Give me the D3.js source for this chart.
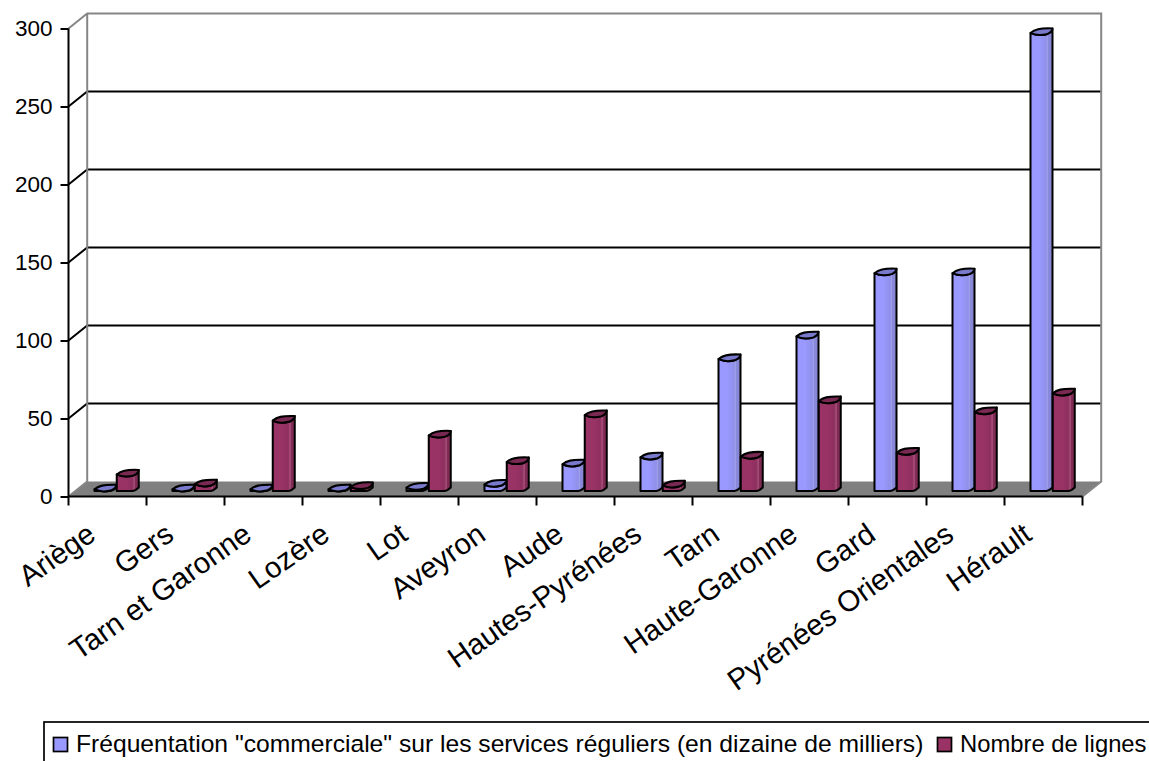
<!DOCTYPE html>
<html>
<head>
<meta charset="utf-8">
<script src="https://d3js.org/d3.v7.min.js"></script>
<style>
html,body{margin:0;padding:0;background:#fff}
svg{display:block}
text{font-family:"Liberation Sans",Arial,sans-serif;fill:#000}
</style>
</head>
<body>
<svg id="chart" width="1149" height="761"></svg>
<script>
// Departments, ordered by traffic
const categories = ["Ariège","Gers","Tarn et Garonne","Lozère","Lot","Aveyron","Aude","Hautes-Pyrénées","Tarn","Haute-Garonne","Gard","Pyrénées Orientales","Hérault"];
const seriesNames = ["Fréquentation \"commerciale\" sur les services réguliers (en dizaine de milliers)","Nombre de lignes"];
const frequentation = [0.5,0.5,0.5,0.5,1.5,3.5,16.5,21,84,98.5,139,139,293];
const lignes = [10,3.7,44.5,2,35,18,48,3,21.5,57,24,50,62];
const yTicks = [0,50,100,150,200,250,300];

const svg = d3.select("#chart");
const frontLeft = 68.5, frontRight = 1082.5, frontBase = 496.5, frontTop = 28.5;
const depthX = 18.7, depthY = -15;
const barDepthY = -8;
const barW = 22;

const x = d3.scaleBand().domain(categories).range([frontLeft, frontRight]);
const y = d3.scaleLinear().domain([0,300]).range([frontBase, frontTop]);
const inner = d3.scaleBand().domain([0,1]).range([26, 70.5]);

// Shaded fills that give the columns their rounded look
const defs = svg.append("defs");
function gradient(id, stops){
  const g = defs.append("linearGradient").attr("id",id);
  stops.forEach(([o,c])=>g.append("stop").attr("offset",o).attr("stop-color",c));
}
gradient("bodyBlue",[[0,"#9999ff"],[0.4,"#9999ff"],[0.72,"#8f8fe8"],[0.76,"#a5a5f0"],[0.8,"#8a8adb"],[1,"#8585d2"]]);
gradient("bodyRed",[[0,"#993366"],[0.45,"#993366"],[0.7,"#8d2f5e"],[0.8,"#a8507c"],[0.84,"#822c56"],[1,"#7c2a52"]]);
const topFill = ["#7a7acc","#7a2952"];
const bodyFill = ["url(#bodyBlue)","url(#bodyRed)"];

// Back wall, floor and left wall
const wallL = frontLeft + depthX, wallR = frontRight + depthX;
svg.append("polygon")
  .attr("points",[[frontLeft,frontBase],[wallL,frontBase+depthY],[wallR,frontBase+depthY],[frontRight,frontBase]].join(" "))
  .attr("fill","#808080");

const gridTicks = yTicks.filter(d=>d>0 && d<300);
svg.append("g").selectAll("path").data(gridTicks).join("path")
  .attr("d",d=>`M${frontLeft},${y(d)}L${wallL},${y(d)+depthY}L${wallR},${y(d)+depthY}`)
  .attr("fill","none").attr("stroke","#000").attr("stroke-width",2);

const wallTop = y(300)+depthY, wallBase = y(0)+depthY;
svg.append("path")
  .attr("d",`M${frontLeft},${y(300)}L${wallL},${wallTop}L${wallR},${wallTop}L${wallR},${wallBase}L${frontRight},${frontBase}`)
  .attr("fill","none").attr("stroke","#868686").attr("stroke-width",2);
svg.append("path")
  .attr("d",`M${wallL},${wallTop}L${wallL},${wallBase}L${frontLeft},${frontBase}`)
  .attr("fill","none").attr("stroke","#868686").attr("stroke-width",2);

// Columns: skewed ellipse on top, rounded shaft below
function topPath(l,t){
  const r = l+barW;
  return `M${l},${t+1.5}C${l+4},${t-2} ${l+9},${t-3.5} ${r},${t-3}`+
         `C${r},${t-1} ${r-2},${t+1} ${r-5},${t+2.5}C${r-10},${t+4} ${l+5},${t+4} ${l},${t+1.5}Z`;
}
function bodyPath(l,t,b){
  const r = l+barW;
  return `M${l},${t+1.5}L${l},${b+2.5}L${r-6},${b+2.5}C${r-3},${b+2} ${r-1},${b} ${r},${b-1}L${r},${t-3}`+
         `C${r},${t-1} ${r-2},${t+1} ${r-5},${t+2.5}C${r-10},${t+4} ${l+5},${t+4} ${l},${t+1.5}Z`;
}

const barData = [];
categories.forEach((c,i)=>{
  barData.push({c,s:0,v:frequentation[i]});
  barData.push({c,s:1,v:lignes[i]});
});
const bars = svg.append("g").selectAll("g").data(barData).join("g");
bars.append("path")
  .attr("d",d=>bodyPath(x(d.c)+inner(d.s), y(d.v)+barDepthY, y(0)+barDepthY))
  .attr("fill",d=>bodyFill[d.s]).attr("stroke","#000").attr("stroke-width",2).attr("stroke-linejoin","round");
bars.append("path")
  .attr("d",d=>topPath(x(d.c)+inner(d.s), y(d.v)+barDepthY))
  .attr("fill",d=>topFill[d.s]).attr("stroke","#000").attr("stroke-width",2).attr("stroke-linejoin","round");

// Axes
const yAxis = d3.axisLeft(y).tickValues(yTicks).tickSize(8).tickPadding(8).tickFormat(d3.format("d"));
const gy = svg.append("g").attr("transform",`translate(${frontLeft},0)`).call(yAxis);
gy.selectAll("path,line").attr("stroke","#000").attr("stroke-width",2);
gy.select(".domain").attr("d",`M0,${y(300)}V${y(0)}`);
gy.selectAll("text").style("font-size","22.5px").attr("fill","#000");

const xAxis = d3.axisBottom(x).tickSize(9).tickFormat(()=>"" );
const gx = svg.append("g").attr("transform",`translate(0,${frontBase})`).call(xAxis);
gx.selectAll(".tick").remove();
gx.select(".domain").attr("d",`M${frontLeft},0H${frontRight}`).attr("stroke","#000").attr("stroke-width",2.2);
gx.selectAll("line.sep").data(categories.concat(["end"])).join("line").attr("class","sep")
  .attr("x1",(d,i)=>x.step()*i+frontLeft).attr("x2",(d,i)=>x.step()*i+frontLeft)
  .attr("y1",0).attr("y2",9).attr("stroke","#000").attr("stroke-width",2);

// Slanted department names
svg.append("g").selectAll("text").data(categories).join("text")
  .attr("text-anchor","end")
  .attr("transform",d=>`translate(${x(d)+x.bandwidth()/2-10},${frontBase+42}) rotate(-35)`)
  .style("font-size","29.5px")
  .text(d=>d);

// Legend
const legend = svg.append("g");
legend.append("rect").attr("x",44).attr("y",722).attr("width",1125).attr("height",60)
  .attr("fill","#fff").attr("stroke","#000").attr("stroke-width",1.7);
const legendX = [53.5,937.5];
const legendFont = ["24.65px","23.8px"];
const legendItems = legend.selectAll("g").data(seriesNames).join("g");
legendItems.append("rect")
  .attr("x",(d,i)=>legendX[i]).attr("y",737.5).attr("width",14).attr("height",14)
  .attr("fill",(d,i)=>["#9999ff","#993366"][i]).attr("stroke","#000").attr("stroke-width",1.7);
legendItems.append("text")
  .attr("x",(d,i)=>legendX[i]+22.5).attr("y",752)
  .style("font-size",(d,i)=>legendFont[i])
  .text(d=>d);
</script>
</body>
</html>
